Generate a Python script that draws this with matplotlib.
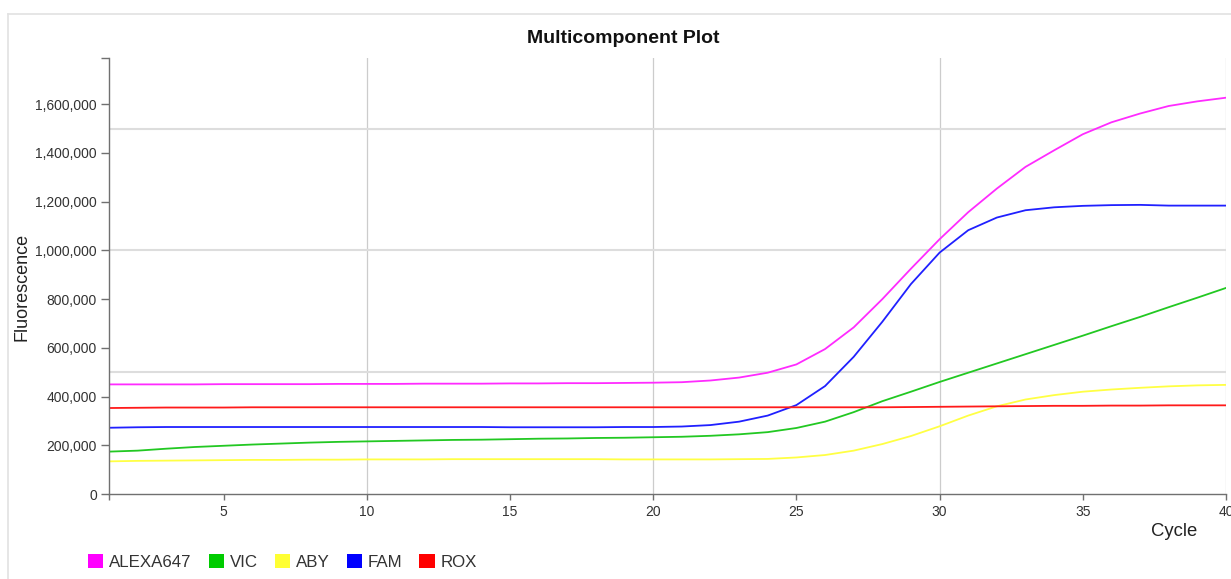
import matplotlib
matplotlib.use("Agg")
import matplotlib.pyplot as plt
from matplotlib.lines import Line2D
from matplotlib.patches import Rectangle
from matplotlib.ticker import FuncFormatter

plt.rcParams["font.family"] = ["Liberation Sans", "DejaVu Sans"]

# 사이클별 형광값
cycles = list(range(1, 41))

alexa647 = [450000, 450000, 450000, 450000, 451000, 451000, 451000, 451000, 452000, 452000,
            452000, 453000, 453000, 453000, 454000, 454000, 455000, 455000, 456000, 457000,
            459000, 466000, 478000, 498000, 532000, 595000, 684000, 800000, 925000, 1046000,
            1157000, 1254000, 1343000, 1411000, 1477000, 1526000, 1562000, 1593000, 1612000, 1627000]

vic = [174000, 178000, 186000, 193000, 198000, 203000, 207000, 211000, 214000, 216000,
       218000, 220000, 222000, 223000, 225000, 227000, 228000, 230000, 231000, 233000,
       235000, 239000, 245000, 254000, 271000, 297000, 336000, 381000, 420000, 460000,
       498000, 536000, 574000, 612000, 650000, 689000, 727000, 767000, 806000, 846000]

aby = [134000, 136000, 137000, 138000, 139000, 140000, 140000, 141000, 141000, 142000,
       142000, 142000, 143000, 143000, 143000, 143000, 143000, 143000, 142000, 142000,
       142000, 142000, 143000, 144000, 150000, 160000, 178000, 205000, 238000, 278000,
       322000, 360000, 388000, 406000, 420000, 429000, 436000, 442000, 446000, 448000]

fam = [272000, 274000, 275000, 275000, 275000, 275000, 275000, 275000, 275000, 275000,
       275000, 275000, 275000, 275000, 274000, 274000, 274000, 274000, 275000, 275000,
       277000, 283000, 297000, 322000, 365000, 443000, 563000, 707000, 862000, 991000,
       1083000, 1135000, 1165000, 1177000, 1183000, 1186000, 1187000, 1184000, 1184000, 1184000]

rox = [353000, 354000, 355000, 355000, 355000, 356000, 356000, 356000, 356000, 356000,
       356000, 356000, 356000, 356000, 356000, 356000, 356000, 356000, 356000, 356000,
       356000, 356000, 356000, 356000, 356000, 356000, 356000, 356000, 357000, 358000,
       359000, 360000, 361000, 362000, 362000, 363000, 363000, 364000, 364000, 364000]

names = ["ALEXA647", "VIC", "ABY", "FAM", "ROX"]
series = [alexa647, vic, aby, fam, rox]
line_colors = ["#ff2bff", "#22c822", "#ffff44", "#2020ff", "#ff1a1a"]
box_colors = ["#ff00ff", "#00cc00", "#ffff33", "#0000ff", "#ff0000"]

y_ticks = [0, 200000, 400000, 600000, 800000, 1000000, 1200000, 1400000, 1600000]
x_ticks = [5, 10, 15, 20, 25, 30, 35, 40]
x_grid = [10, 20, 30, 40]
y_grid = [500000, 1000000, 1500000]
y_top = 1790000

W, H = 1231, 579
fig = plt.figure(figsize=(W / 100, H / 100), dpi=100)
ax = fig.add_axes([109 / W, (H - 494) / H, 1117 / W, 436 / H])

# 바깥 테두리 (왼쪽, 위쪽)
fig.add_artist(Line2D([8 / W, 8 / W], [0, 1 - 14 / H], color="#e2e2e2", lw=1.2))
fig.add_artist(Line2D([8 / W, 1], [1 - 14 / H, 1 - 14 / H], color="#e2e2e2", lw=1.2))

for gx in x_grid:
    ax.axvline(gx, color="#cccccc", lw=0.9, zorder=0)
for gy in y_grid:
    ax.axhline(gy, color="#dddddd", lw=1.5, zorder=0)

for name, vals, c in zip(names, series, line_colors):
    ax.plot(cycles, vals, color=c, lw=1.3, label=name, zorder=2)

ax.set_xlim(1, 40)
ax.set_ylim(0, y_top)

ax.set_xticks([1] + x_ticks)
ax.set_xticklabels([""] + [str(t) for t in x_ticks])
ax.set_yticks(y_ticks + [y_top])
ax.yaxis.set_major_formatter(FuncFormatter(lambda v, p: "" if v == y_top else f"{int(v):,}"))

for s in ["top", "right"]:
    ax.spines[s].set_visible(False)
for s in ["left", "bottom"]:
    ax.spines[s].set_color("#707070")
    ax.spines[s].set_linewidth(1.0)

ax.tick_params(axis="y", length=5.5, width=1.0, pad=3.2, color="#707070",
               labelcolor="#333333", labelsize=10)
ax.tick_params(axis="x", length=4.5, width=1.0, pad=3.5, color="#707070",
               labelcolor="#333333", labelsize=10)

fig.text(623 / W, 1 - 43.3 / H, "Multicomponent Plot", ha="center", va="baseline",
         fontsize=14, fontweight="bold", color="#111111")
fig.text(22 / W, 1 - 287 / H, "Fluorescence", rotation=90, ha="center", va="center",
         fontsize=13, color="#222222")
fig.text(1173.7 / W, 1 - 536.5 / H, "Cycle", ha="center", va="baseline",
         fontsize=13.3, color="#222222")

handles = [Rectangle((0, 0), 1, 1, facecolor=c, edgecolor="none") for c in box_colors]
fig.legend(handles, names, loc="center left", bbox_to_anchor=(88 / W, 1 - 562 / H),
           ncol=5, frameon=False, fontsize=12.2, handlelength=0.9, handleheight=0.9,
           handletextpad=0.35, columnspacing=1.0, borderpad=0, borderaxespad=0,
           labelcolor="#333333")

fig.savefig("out.png", dpi=100)
